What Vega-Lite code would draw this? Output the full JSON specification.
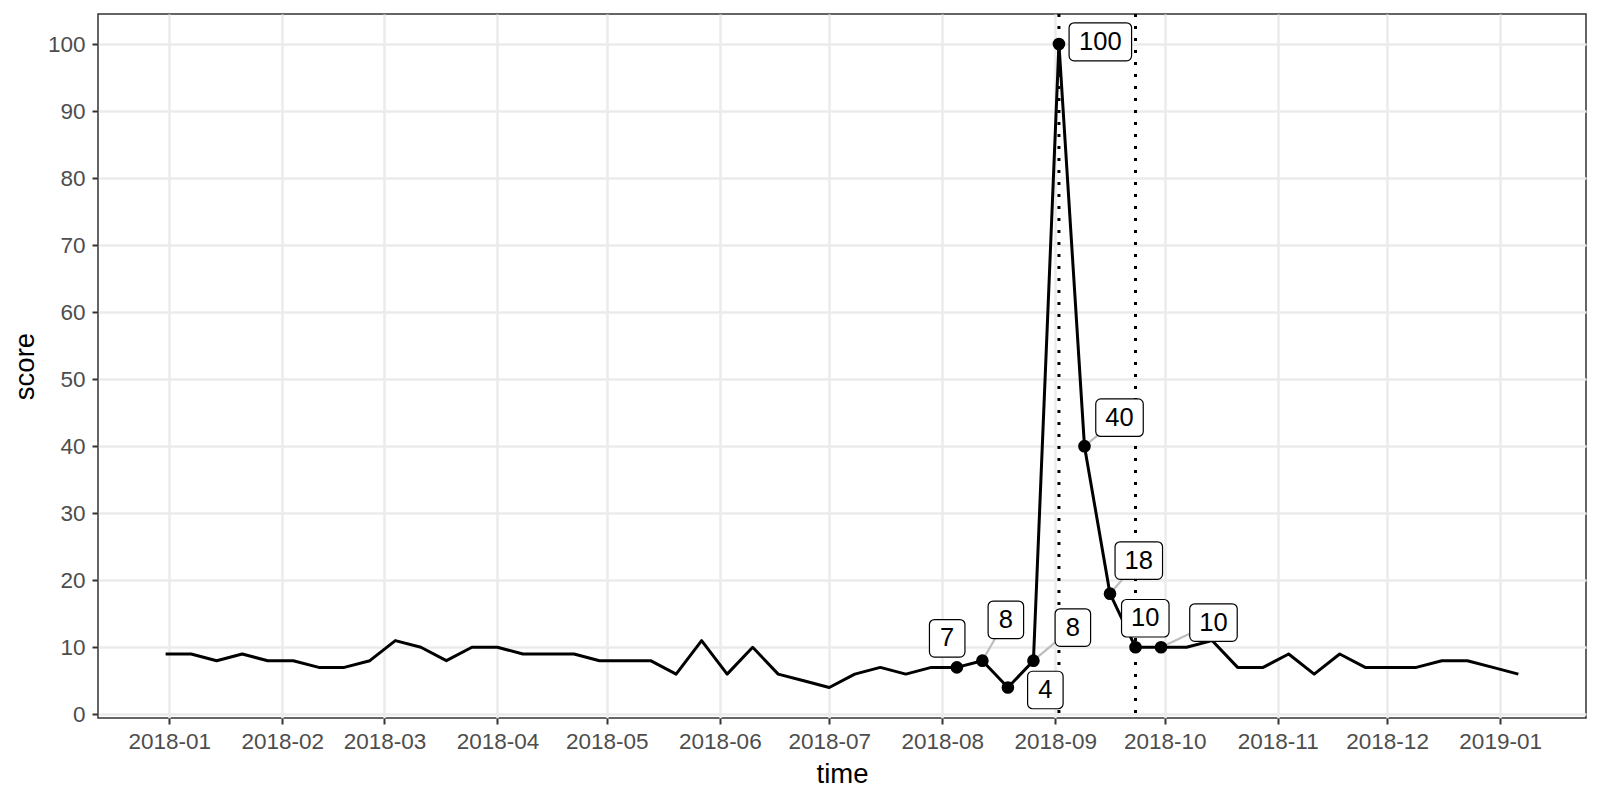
{
  "$schema": "https://vega.github.io/schema/vega-lite/v6.json",
  "width": 1488,
  "height": 704,
  "autosize": {"type": "none"},
  "padding": {"left": 98, "top": 14, "right": 14, "bottom": 82},
  "background": "white",
  "config": {
    "font": "Liberation Sans",
    "view": {"stroke": "#333333", "strokeWidth": 1.5},
    "axis": {
      "domain": false,
      "grid": true,
      "gridColor": "#EBEBEB",
      "gridWidth": 2.5,
      "tickColor": "#333333",
      "tickWidth": 2,
      "tickSize": 6,
      "labelFont": "Liberation Sans",
      "labelFontSize": 22.5,
      "labelColor": "#4D4D4D",
      "titleFont": "Liberation Sans",
      "titleFontSize": 27.5,
      "titleFontWeight": "normal",
      "titleColor": "#000000",
      "labelOverlap": false,
      "labelFlush": false
    }
  },
  "datasets": {
    "trend": [
      {"time": "2017-12-31", "score": 9},
      {"time": "2018-01-07", "score": 9},
      {"time": "2018-01-14", "score": 8},
      {"time": "2018-01-21", "score": 9},
      {"time": "2018-01-28", "score": 8},
      {"time": "2018-02-04", "score": 8},
      {"time": "2018-02-11", "score": 7},
      {"time": "2018-02-18", "score": 7},
      {"time": "2018-02-25", "score": 8},
      {"time": "2018-03-04", "score": 11},
      {"time": "2018-03-11", "score": 10},
      {"time": "2018-03-18", "score": 8},
      {"time": "2018-03-25", "score": 10},
      {"time": "2018-04-01", "score": 10},
      {"time": "2018-04-08", "score": 9},
      {"time": "2018-04-15", "score": 9},
      {"time": "2018-04-22", "score": 9},
      {"time": "2018-04-29", "score": 8},
      {"time": "2018-05-06", "score": 8},
      {"time": "2018-05-13", "score": 8},
      {"time": "2018-05-20", "score": 6},
      {"time": "2018-05-27", "score": 11},
      {"time": "2018-06-03", "score": 6},
      {"time": "2018-06-10", "score": 10},
      {"time": "2018-06-17", "score": 6},
      {"time": "2018-06-24", "score": 5},
      {"time": "2018-07-01", "score": 4},
      {"time": "2018-07-08", "score": 6},
      {"time": "2018-07-15", "score": 7},
      {"time": "2018-07-22", "score": 6},
      {"time": "2018-07-29", "score": 7},
      {"time": "2018-08-05", "score": 7},
      {"time": "2018-08-12", "score": 8},
      {"time": "2018-08-19", "score": 4},
      {"time": "2018-08-26", "score": 8},
      {"time": "2018-09-02", "score": 100},
      {"time": "2018-09-09", "score": 40},
      {"time": "2018-09-16", "score": 18},
      {"time": "2018-09-23", "score": 10},
      {"time": "2018-09-30", "score": 10},
      {"time": "2018-10-07", "score": 10},
      {"time": "2018-10-14", "score": 11},
      {"time": "2018-10-21", "score": 7},
      {"time": "2018-10-28", "score": 7},
      {"time": "2018-11-04", "score": 9},
      {"time": "2018-11-11", "score": 6},
      {"time": "2018-11-18", "score": 9},
      {"time": "2018-11-25", "score": 7},
      {"time": "2018-12-02", "score": 7},
      {"time": "2018-12-09", "score": 7},
      {"time": "2018-12-16", "score": 8},
      {"time": "2018-12-23", "score": 8},
      {"time": "2018-12-30", "score": 7},
      {"time": "2019-01-06", "score": 6}
    ],
    "labels": [
      {"time": "2018-08-05", "score": 7, "label_time": "2018-08-02T08:24:00Z", "label_score": 11.34, "segment": false},
      {"time": "2018-08-12", "score": 8, "label_time": "2018-08-18T10:34:00Z", "label_score": 14.1, "segment": true},
      {"time": "2018-08-19", "score": 4, "label_time": "2018-08-29T06:30:00Z", "label_score": 3.63, "segment": false},
      {"time": "2018-08-26", "score": 8, "label_time": "2018-09-05T19:30:00Z", "label_score": 12.94, "segment": true},
      {"time": "2018-09-02", "score": 100, "label_time": "2018-09-13T08:24:00Z", "label_score": 100.33, "segment": false},
      {"time": "2018-09-09", "score": 40, "label_time": "2018-09-18T14:38:00Z", "label_score": 44.25, "segment": true},
      {"time": "2018-09-16", "score": 18, "label_time": "2018-09-23T21:36:00Z", "label_score": 22.94, "segment": true},
      {"time": "2018-09-23", "score": 10, "label_time": "2018-09-25T16:19:00Z", "label_score": 14.33, "segment": false},
      {"time": "2018-09-30", "score": 10, "label_time": "2018-10-14T09:07:00Z", "label_score": 13.69, "segment": true}
    ],
    "events": [
      {"time": "2018-09-02"},
      {"time": "2018-09-23"}
    ]
  },
  "layer": [
    {
      "data": {"name": "events", "format": {"parse": {"time": "date"}}},
      "mark": {"type": "rule", "color": "#000000", "strokeWidth": 3, "strokeDash": [3, 9], "strokeCap": "butt"},
      "encoding": {
        "x": {
          "field": "time", "type": "temporal",
          "scale": {"type": "utc", "nice": false, "domain": [
            {"year": 2017, "month": 12, "date": 12, "hours": 10, "minutes": 48, "utc": true},
            {"year": 2019, "month": 1, "date": 24, "hours": 13, "minutes": 12, "utc": true}
          ]},
          "axis": {
            "title": "time",
            "format": "%Y-%m",
            "tickCount": {"interval": "month", "step": 1},
            "labelPadding": 6,
            "titleBaseline": "alphabetic",
            "titleY": 64
          }
        }
      }
    },
    {
      "data": {"name": "trend", "format": {"parse": {"time": "date"}}},
      "mark": {"type": "line", "color": "#000000", "strokeWidth": 3, "strokeJoin": "round"},
      "encoding": {
        "x": {"field": "time", "type": "temporal"},
        "y": {
          "field": "score", "type": "quantitative",
          "scale": {"domain": [-0.55, 104.48], "nice": false, "zero": false},
          "axis": {
            "title": "score",
            "values": [0, 10, 20, 30, 40, 50, 60, 70, 80, 90, 100],
            "labelPadding": 7,
            "titleBaseline": "alphabetic",
            "titleX": -65
          }
        }
      }
    },
    {
      "data": {"name": "labels", "format": {"parse": {"time": "date", "label_time": "date"}}},
      "transform": [{"filter": "datum.segment"}],
      "mark": {"type": "rule", "color": "#BDBDBD", "strokeWidth": 2.2},
      "encoding": {
        "x": {"field": "time", "type": "temporal"},
        "x2": {"field": "label_time"},
        "y": {"field": "score", "type": "quantitative"},
        "y2": {"field": "label_score"}
      }
    },
    {
      "data": {"name": "labels", "format": {"parse": {"time": "date", "label_time": "date"}}},
      "mark": {"type": "circle", "color": "#000000", "opacity": 1, "size": 160},
      "encoding": {
        "x": {"field": "time", "type": "temporal"},
        "y": {"field": "score", "type": "quantitative"}
      }
    },
    {
      "data": {"name": "labels", "format": {"parse": {"time": "date", "label_time": "date"}}},
      "transform": [{"filter": "datum.score < 10"}],
      "mark": {"type": "rect", "fill": "#FFFFFF", "stroke": "#000000", "strokeWidth": 1.2, "cornerRadius": 5, "width": 35.5, "height": 37.5},
      "encoding": {
        "x": {"field": "label_time", "type": "temporal"},
        "y": {"field": "label_score", "type": "quantitative"}
      }
    },
    {
      "data": {"name": "labels", "format": {"parse": {"time": "date", "label_time": "date"}}},
      "transform": [{"filter": "datum.score >= 10 && datum.score < 100"}],
      "mark": {"type": "rect", "fill": "#FFFFFF", "stroke": "#000000", "strokeWidth": 1.2, "cornerRadius": 5, "width": 47.5, "height": 37.5},
      "encoding": {
        "x": {"field": "label_time", "type": "temporal"},
        "y": {"field": "label_score", "type": "quantitative"}
      }
    },
    {
      "data": {"name": "labels", "format": {"parse": {"time": "date", "label_time": "date"}}},
      "transform": [{"filter": "datum.score >= 100"}],
      "mark": {"type": "rect", "fill": "#FFFFFF", "stroke": "#000000", "strokeWidth": 1.2, "cornerRadius": 5, "width": 62.5, "height": 38},
      "encoding": {
        "x": {"field": "label_time", "type": "temporal"},
        "y": {"field": "label_score", "type": "quantitative"}
      }
    },
    {
      "data": {"name": "labels", "format": {"parse": {"time": "date", "label_time": "date"}}},
      "mark": {"type": "text", "font": "Liberation Sans", "fontSize": 25.5, "color": "#000000", "align": "center", "baseline": "middle"},
      "encoding": {
        "x": {"field": "label_time", "type": "temporal"},
        "y": {"field": "label_score", "type": "quantitative"},
        "text": {"field": "score", "type": "quantitative", "format": "d"}
      }
    }
  ]
}
